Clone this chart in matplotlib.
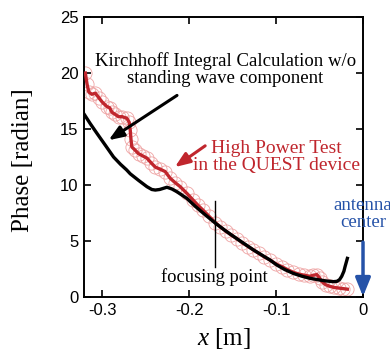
import numpy as np
import matplotlib
matplotlib.use('Agg')
import matplotlib.pyplot as plt

plt.rcParams['axes.unicode_minus'] = False
plt.rcParams['mathtext.fontset'] = 'custom'
plt.rcParams['mathtext.it'] = 'Liberation Serif:italic'
plt.rcParams['mathtext.rm'] = 'Liberation Serif'

# high power test (red, with circles)
x_exp = [-0.3195, -0.3175, -0.3155, -0.312, -0.308, -0.304, -0.300, -0.2946, -0.2915,
         -0.2889, -0.285, -0.2813, -0.277, -0.2716, -0.269, -0.2678, -0.267, -0.266,
         -0.262, -0.2583, -0.2535, -0.2486, -0.244, -0.239, -0.233, -0.2276, -0.2218,
         -0.216, -0.2103, -0.2026, -0.196, -0.190, -0.184, -0.177, -0.170, -0.164,
         -0.158, -0.152, -0.145, -0.139, -0.132, -0.126, -0.120, -0.114, -0.107,
         -0.100, -0.093, -0.087, -0.080, -0.074, -0.068, -0.061, -0.057, -0.053,
         -0.050, -0.047, -0.043, -0.038, -0.033, -0.028, -0.023, -0.018]
y_exp = [20.0, 19.0, 18.3, 18.1, 18.2, 17.8, 17.4, 17.0, 16.9,
         16.5, 16.3, 16.1, 16.1, 15.95, 15.6, 14.9, 14.1, 13.4,
         13.1, 12.8, 12.6, 12.4, 12.0, 11.6, 11.4, 11.2, 10.6,
         10.2, 9.85, 9.25, 8.7, 8.2, 7.75, 7.2, 6.65, 6.25,
         5.9, 5.55, 5.2, 4.85, 4.5, 4.2, 3.9, 3.6, 3.3,
         2.95, 2.7, 2.45, 2.2, 2.05, 1.95, 1.85, 1.95, 2.0,
         1.7, 1.35, 1.1, 0.95, 0.85, 0.8, 0.75, 0.7]

# kirchhoff integral calculation (black)
x_calc = [-0.3215, -0.314, -0.306, -0.296, -0.287, -0.279, -0.272, -0.2678, -0.258,
          -0.2486, -0.243, -0.239, -0.234, -0.2256, -0.220, -0.2141, -0.2026, -0.193,
          -0.184, -0.170, -0.158, -0.145, -0.126, -0.107, -0.099, -0.090, -0.080,
          -0.070, -0.061, -0.050, -0.042, -0.034, -0.030, -0.027, -0.0245, -0.022,
          -0.0207, -0.018]
y_calc = [16.4, 15.5, 14.6, 13.5, 12.5, 11.85, 11.35, 11.0, 10.4,
          9.85, 9.6, 9.55, 9.6, 9.8, 9.65, 9.4, 8.8, 8.1,
          7.5, 6.6, 5.9, 5.2, 4.2, 3.3, 2.85, 2.45, 2.1,
          1.85, 1.67, 1.52, 1.43, 1.37, 1.4, 1.55, 1.85, 2.3,
          2.7, 3.45]

x_focus = -0.170
red = '#c0262d'
blue = '#2552a8'
serif = 'Liberation Serif'
sans = 'Liberation Sans'

fig = plt.figure(figsize=(3.9, 3.5), dpi=100)
ax = fig.add_axes([0.2154, 0.1514, 0.7154, 0.80])

# circles under the line
ax.plot(x_exp, y_exp, ls='none', marker='o', ms=9.5, mfc='none',
        mec='#eea3a3', mew=0.6, zorder=2)
ax.plot(x_exp, y_exp, color=red, lw=2.4, zorder=3)
ax.plot(x_calc, y_calc, color='black', lw=2.4, zorder=4)

# focusing point marker
ax.plot([x_focus, x_focus], [2.7, 8.6], color='black', lw=1.0, zorder=5)
ax.text(-0.171, 1.75, 'focusing point', ha='center', va='center',
        fontsize=13.3, family=serif)

ax.text(-0.1586, 20.3, 'Kirchhoff Integral Calculation w/o\nstanding wave component',
        ha='center', va='center', fontsize=13.5, family=serif, linespacing=1.0)
ax.annotate('', xy=(-0.2927, 14.0), xytext=(-0.214, 18.0),
            arrowprops=dict(arrowstyle='-|>,head_length=0.9,head_width=0.35',
                            color='black', lw=2.2, shrinkA=0, shrinkB=0))

ax.text(-0.1, 12.5, 'High Power Test\nin the QUEST device', ha='center', va='center',
        fontsize=14, family=serif, color=red, linespacing=1.0)
ax.annotate('', xy=(-0.2165, 11.6), xytext=(-0.1816, 13.5),
            arrowprops=dict(arrowstyle='-|>,head_length=0.9,head_width=0.35',
                            color=red, lw=2.2, shrinkA=0, shrinkB=0))

ax.text(0.0, 7.4, 'antenna\ncenter', ha='center', va='center', fontsize=13.5,
        family=serif, color=blue, linespacing=1.0, clip_on=False)
ax.annotate('', xy=(0.0, 0.05), xytext=(0.0, 4.9),
            arrowprops=dict(arrowstyle='-|>,head_length=1.1,head_width=0.45',
                            color=blue, lw=2.5, shrinkA=0, shrinkB=0),
            annotation_clip=False, zorder=6)

ax.set_xlim(-0.321, 0.0)
ax.set_ylim(0, 25)
ax.set_xticks([-0.3, -0.2, -0.1, 0])
ax.set_xticklabels(['-0.3', '-0.2', '-0.1', '0'])
ax.set_yticks([0, 5, 10, 15, 20, 25])
ax.tick_params(direction='in', top=True, right=True, length=5, width=1.2,
               labelsize=12, pad=4)
for lab in ax.get_xticklabels() + ax.get_yticklabels():
    lab.set_family(sans)
for s in ax.spines.values():
    s.set_linewidth(1.4)

ax.set_xlabel('$x$ [m]', fontsize=18, family=serif, labelpad=6)
ax.set_ylabel('Phase [radian]', fontsize=18, family=serif)
ax.yaxis.set_label_coords(-0.18, 0.49)

fig.savefig('out.png', dpi=100)
